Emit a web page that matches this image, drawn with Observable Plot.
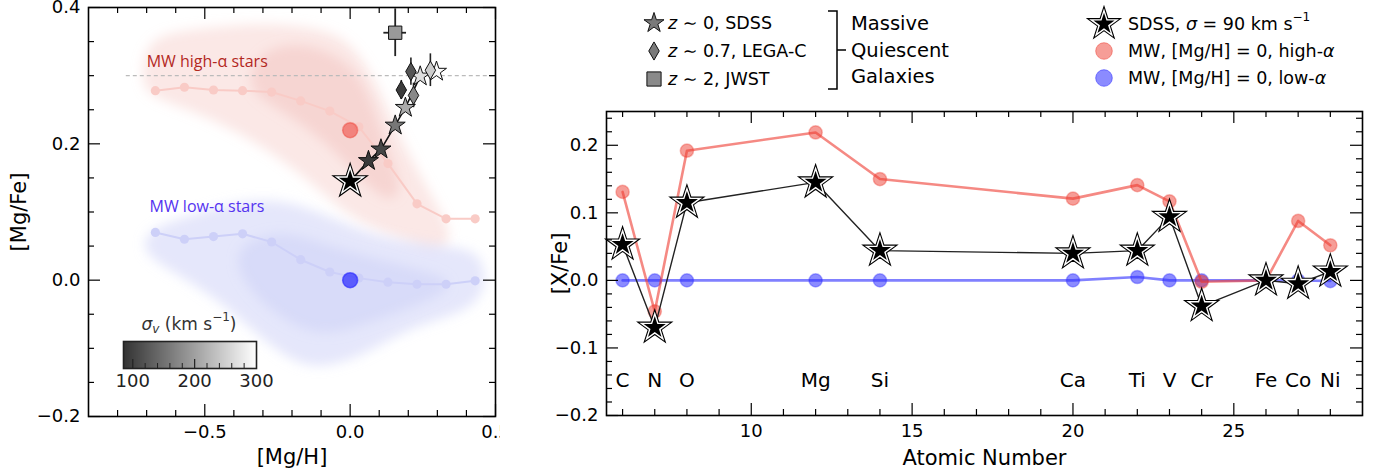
<!DOCTYPE html>
<html><head><meta charset="utf-8">
<script src="https://cdn.jsdelivr.net/npm/d3@7"></script>
<script src="https://cdn.jsdelivr.net/npm/@observablehq/plot@0.6"></script>
<style>
body{margin:0;background:#fff;width:1376px;height:474px;position:relative;overflow:hidden;font-family:"DejaVu Sans",sans-serif;}
.abs{position:absolute;}
.abs svg{max-width:none;}
#overlay{pointer-events:none;}
</style></head><body>
<div id="left" class="abs" style="left:0;top:0"></div>
<div id="right" class="abs" style="left:500px;top:0"></div>
<div id="cbar" class="abs" style="left:103px;top:301px"></div>
<svg id="overlay" class="abs" style="left:0;top:0" width="1376" height="474"></svg>
<script>
// ---------------- DATA (left panel) ----------------
const mwBinsMgH   = [-0.67,-0.57,-0.47,-0.37,-0.27,-0.17,-0.07,0.03,0.13,0.23,0.33,0.43];
const mwHighMgFe  = [0.278,0.283,0.279,0.278,0.276,0.263,0.248,0.225,0.171,0.112,0.090,0.090];
const mwLowMgFe   = [0.070,0.060,0.064,0.068,0.056,0.030,0.012,0.003,-0.003,-0.006,-0.006,-0.001];
const mwRefMgH    = [0.0, 0.0];
const mwRefMgFe   = [0.22, 0.0];
const sdssMgH     = [0.0,0.063,0.106,0.155,0.190,0.241,0.297];
const sdssMgFe    = [0.145,0.175,0.192,0.227,0.253,0.299,0.306];
const sdssSigma   = [90,92,105,157,210,264,295];
const legacMgH    = [0.209,0.176,0.218,0.276];
const legacMgFe   = [0.306,0.279,0.271,0.308];
const legacErr    = [0.020,0.014,0.018,0.024];
const legacSigma  = [121,95,175,246];
const jwstMgH     = [0.155];
const jwstMgFe    = [0.363];
const jwstErrX    = [0.039];
const jwstErrY    = [0.035];
const jwstSigma   = [192];
const alphaSolarLine = [0.3];
const alphaSolarFromMgH = -0.77;
// hand-read outlines of the MW star clouds (outer extent, dense core)
const highCloudOuter = [[-0.72,0.30],[-0.70,0.36],[-0.5,0.37],[-0.3,0.378],[-0.1,0.37],[0.0,0.35],[0.08,0.30],[0.14,0.24],[0.22,0.17],[0.30,0.11],[0.36,0.06],[0.30,0.04],[0.18,0.06],[0.05,0.08],[-0.05,0.11],[-0.18,0.16],[-0.35,0.21],[-0.55,0.25],[-0.70,0.27]];
const highCloudCore  = [[-0.35,0.30],[-0.3,0.34],[-0.15,0.35],[0.0,0.32],[0.07,0.27],[0.12,0.2],[0.18,0.14],[0.15,0.11],[0.05,0.14],[-0.05,0.19],[-0.2,0.24],[-0.33,0.27]];
const lowCloudOuter  = [[-0.72,0.04],[-0.70,0.075],[-0.55,0.095],[-0.4,0.115],[-0.25,0.12],[-0.1,0.10],[0.05,0.07],[0.2,0.055],[0.35,0.05],[0.46,0.04],[0.47,-0.02],[0.38,-0.05],[0.2,-0.07],[0.05,-0.11],[-0.1,-0.13],[-0.2,-0.12],[-0.32,-0.08],[-0.45,-0.03],[-0.6,0.01]];
const lowCloudCore   = [[-0.4,0.05],[-0.25,0.075],[-0.1,0.055],[0.05,0.035],[0.25,0.015],[0.38,-0.005],[0.25,-0.035],[0.05,-0.065],[-0.1,-0.085],[-0.25,-0.055],[-0.38,0.0]];
const cloudLabels = [
  {text:"MW high-α stars", mgh:-0.70, mgfe:0.320, color:"#b3281f"},
  {text:"MW low-α stars",  mgh:-0.69, mgfe:0.107, color:"#5533f0"}
];
const leftXMajor=[-0.5,0,0.5], leftXMinor=[-0.8,-0.7,-0.6,-0.4,-0.3,-0.2,-0.1,0.1,0.2,0.3,0.4];
const leftYMajor=[-0.2,0,0.2,0.4], leftYMinor=[-0.15,-0.1,-0.05,0.05,0.1,0.15,0.25,0.3,0.35];
const leftXLabels=[-0.5,0,0.5], leftYLabels=[-0.2,0,0.2,0.4];
const sigmaDomain=[85,300];
const cbarLabels=[100,200,300], cbarMajor=[100,200], cbarMinor=[120,140,160,180,220,240,260,280];

// ---------------- DATA (right panel) ----------------
const elements     = ["C","N","O","Mg","Si","Ca","Ti","V","Cr","Fe","Co","Ni"];
const atomicNumber = [6,7,8,12,14,20,22,23,24,26,27,28];
const mwHighXFe    = [0.131,-0.046,0.192,0.219,0.150,0.121,0.141,0.117,-0.002,0.0,0.088,0.052];
const mwLowXFe     = [0,0,0,0,0,0,0.005,0,0,0,0,-0.001];
const sdss90XFe    = [0.053,-0.070,0.115,0.145,0.044,0.040,0.044,0.094,-0.038,0.0,-0.005,0.013];
const rightXMajor=[10,15,20,25], rightXMinor=[6,7,8,9,11,12,13,14,16,17,18,19,21,22,23,24,26,27,28];
const rightYMajor=[-0.2,-0.1,0,0.1,0.2], rightYMinor=[-0.18,-0.16,-0.14,-0.12,-0.08,-0.06,-0.04,-0.02,0.02,0.04,0.06,0.08,0.12,0.14,0.16,0.18,0.22,0.24];

// ---------------- tables ----------------
const pts = (xs, ys, extra={}) => xs.map((x,i)=>({x, y:ys[i], ...Object.fromEntries(Object.entries(extra).map(([k,v])=>[k,v[i]]))}));
const mwHigh = pts(mwBinsMgH, mwHighMgFe);
const mwLow  = pts(mwBinsMgH, mwLowMgFe);
const sdss   = pts(sdssMgH, sdssMgFe, {s:sdssSigma});
const legac  = pts(legacMgH, legacMgFe, {e:legacErr, s:legacSigma});
const jwst   = pts(jwstMgH, jwstMgFe, {ex:jwstErrX, ey:jwstErrY, s:jwstSigma});
const cloud  = arr => arr.map(([x,y])=>({x,y}));
const elem   = elements.map((el,i)=>({el, z:atomicNumber[i], hi:mwHighXFe[i], lo:mwLowXFe[i], sd:sdss90XFe[i]}));

const FONT = "DejaVu Sans";
const colorScale = {type:"linear", domain:sigmaDomain, range:["#333333","#ffffff"]};

function frameTicks(xMaj,xMin,yMaj,yMin,iw,ih){
  const M=12, m=6, sw=1.2;
  return [
    Plot.ruleX(xMaj,{x:d=>d,insetTop:ih-M,strokeWidth:sw}),
    Plot.ruleX(xMaj,{x:d=>d,insetBottom:ih-M,strokeWidth:sw}),
    Plot.ruleX(xMin,{x:d=>d,insetTop:ih-m,strokeWidth:sw}),
    Plot.ruleX(xMin,{x:d=>d,insetBottom:ih-m,strokeWidth:sw}),
    Plot.ruleY(yMaj,{y:d=>d,insetRight:iw-M,strokeWidth:sw}),
    Plot.ruleY(yMaj,{y:d=>d,insetLeft:iw-M,strokeWidth:sw}),
    Plot.ruleY(yMin,{y:d=>d,insetRight:iw-m,strokeWidth:sw}),
    Plot.ruleY(yMin,{y:d=>d,insetLeft:iw-m,strokeWidth:sw})
  ];
}
const fmt1 = d3.format(".1f");
const centered = {textAnchor:"middle", lineAnchor:"middle"};

// ---------------- LEFT PANEL ----------------
const L = {w:500,h:474,t:7,r:5,b:58,l:88};
const liw = L.w-L.l-L.r, lih = L.h-L.t-L.b;
const left = Plot.plot({
  width:L.w, height:L.h, marginTop:L.t, marginRight:L.r, marginBottom:L.b, marginLeft:L.l,
  x:{domain:[-0.9,0.5]}, y:{domain:[-0.2,0.4]}, color:colorScale,
  style:{fontFamily:FONT, fontSize:"18px", background:"white", color:"black"},
  marks:[
    Plot.line(cloud(highCloudOuter),{x:"x",y:"y",curve:"basis-closed",fill:"#f6c6c0",fillOpacity:0.4,stroke:"none"}),
    Plot.line(cloud(highCloudCore),{x:"x",y:"y",curve:"basis-closed",fill:"#eeb2ab",fillOpacity:0.35,stroke:"none"}),
    Plot.line(cloud(lowCloudOuter),{x:"x",y:"y",curve:"basis-closed",fill:"#d0d4f8",fillOpacity:0.55,stroke:"none"}),
    Plot.line(cloud(lowCloudCore),{x:"x",y:"y",curve:"basis-closed",fill:"#c3c8f4",fillOpacity:0.4,stroke:"none"}),
    Plot.ruleY(alphaSolarLine,{y:d=>d,x1:()=>alphaSolarFromMgH,x2:()=>0.5,stroke:"#bbbbbb",strokeWidth:1.3,strokeDasharray:"4,3"}),
    Plot.line(mwHigh,{x:"x",y:"y",stroke:"#f9cbc6",strokeWidth:2}),
    Plot.dot(mwHigh,{x:"x",y:"y",r:4.6,fill:"#f9cbc6",stroke:"none"}),
    Plot.line(mwLow,{x:"x",y:"y",stroke:"#cdd0f8",strokeWidth:2}),
    Plot.dot(mwLow,{x:"x",y:"y",r:4.6,fill:"#cdd0f8",stroke:"none"}),
    Plot.text(cloudLabels,{x:"mgh",y:"mgfe",text:"text",fill:"color",textAnchor:"start",fontSize:16,fontFamily:"Open Sans"}),
    Plot.dot([{x:mwRefMgH[0],y:mwRefMgFe[0]}],{x:"x",y:"y",r:7.5,fill:"#ee4036",fillOpacity:0.55,stroke:"#ee4036",strokeOpacity:0.45}),
    Plot.dot([{x:mwRefMgH[1],y:mwRefMgFe[1]}],{x:"x",y:"y",r:7.5,fill:"#2626ff",fillOpacity:0.7,stroke:"#2626ff",strokeOpacity:0.6}),
    Plot.ruleX(legac,{x:"x",y1:d=>d.y-d.e,y2:d=>d.y+d.e,stroke:"#222",strokeWidth:1.6}),
    Plot.ruleX(jwst,{x:"x",y1:d=>d.y-d.ey,y2:d=>d.y+d.ey,stroke:"#222",strokeWidth:1.8}),
    Plot.ruleY(jwst,{y:"y",x1:d=>d.x-d.ex,x2:d=>d.x+d.ex,stroke:"#222",strokeWidth:1.8}),
    Plot.line(sdss,{x:"x",y:"y",stroke:"#111",strokeWidth:1.6}),
    Plot.dot(sdss.slice(1),{x:"x",y:"y",symbol:"star",r:6.3,fill:"s",stroke:"#111",strokeWidth:1}),
    Plot.dot(sdss.slice(0,1),{x:"x",y:"y",symbol:"star",r:8.4,fill:"black",stroke:"black",strokeWidth:3.6}),
    Plot.dot(sdss.slice(0,1),{x:"x",y:"y",symbol:"star",r:8.4,fill:"black",stroke:"white",strokeWidth:1.4}),
    Plot.dot(legac,{x:"x",y:"y",symbol:"diamond",r:5.5,fill:"s",stroke:"#111",strokeWidth:1}),
    Plot.dot(jwst,{x:"x",y:"y",symbol:"square",r:7.5,fill:"s",stroke:"#111",strokeWidth:1}),
    ...frameTicks(leftXMajor,leftXMinor,leftYMajor,leftYMinor,liw,lih),
    Plot.frame({stroke:"black",strokeWidth:1.6}),
    Plot.axisX({ticks:leftXLabels,tickSize:0,tickPadding:9,tickFormat:fmt1,label:null,fontSize:18}),
    Plot.axisY({ticks:leftYLabels,tickSize:0,tickPadding:8,tickFormat:fmt1,label:null,fontSize:18}),
    Plot.text(["[Mg/H]"],{text:d=>d,frameAnchor:"bottom",dy:41,fontSize:21,...centered}),
    Plot.text(["[Mg/Fe]"],{text:d=>d,frameAnchor:"left",dx:-69,rotate:-90,fontSize:21,...centered})
  ]
});
// soften the hand-drawn star-cloud outlines so they read as diffuse point clouds
{
  const svgL = d3.select(left);
  svgL.insert("defs",":first-child").append("filter").attr("id","cloudBlur")
    .attr("x","-20%").attr("y","-20%").attr("width","140%").attr("height","140%")
    .append("feGaussianBlur").attr("stdDeviation",6);
  svgL.selectAll('g[aria-label="line"]').filter((d,i)=>i<4).attr("filter","url(#cloudBlur)");
}
document.getElementById("left").append(left);

// ---------------- COLORBAR ----------------
const C = {w:173,h:97,t:40,r:20,b:30,l:20};
const ciw = C.w-C.l-C.r, cih = C.h-C.t-C.b;
const cbar = Plot.plot({
  width:C.w, height:C.h, marginTop:C.t, marginRight:C.r, marginBottom:C.b, marginLeft:C.l,
  x:{domain:sigmaDomain}, y:{domain:[0,1], axis:null}, color:colorScale,
  style:{fontFamily:FONT, fontSize:"18px", background:"transparent", color:"#222"},
  marks:[
    Plot.raster({fill:(x,y)=>x, x1:sigmaDomain[0], x2:sigmaDomain[1], y1:0, y2:1, width:ciw, height:1, imageRendering:"auto"}),
    Plot.ruleX(cbarMajor,{x:d=>d,insetTop:cih-9,stroke:"#222",strokeWidth:1.2}),
    Plot.ruleX(cbarMinor,{x:d=>d,insetTop:cih-5,stroke:"#222",strokeWidth:1}),
    Plot.frame({stroke:"#222",strokeWidth:1.6}),
    Plot.axisX({ticks:cbarLabels,tickSize:0,tickPadding:6,label:null,fontSize:18,tickFormat:d=>String(d)})
  ]
});
document.getElementById("cbar").append(cbar);

// ---------------- RIGHT PANEL ----------------
const R = {w:876,h:474,t:111,r:14,b:59,l:106};
const riw = R.w-R.l-R.r, rih = R.h-R.t-R.b;
const right = Plot.plot({
  width:R.w, height:R.h, marginTop:R.t, marginRight:R.r, marginBottom:R.b, marginLeft:R.l,
  x:{domain:[5.5,29]}, y:{domain:[-0.2,0.25]},
  style:{fontFamily:FONT, fontSize:"18px", background:"white", color:"black"},
  marks:[
    Plot.line(elem,{x:"z",y:"lo",stroke:"#2b2bff",strokeOpacity:0.6,strokeWidth:2.6}),
    Plot.dot(elem,{x:"z",y:"lo",r:6.6,fill:"#2b2bff",fillOpacity:0.55,stroke:"#2b2bff",strokeOpacity:0.35}),
    Plot.line(elem,{x:"z",y:"hi",stroke:"#ee3b30",strokeOpacity:0.6,strokeWidth:2.6}),
    Plot.dot(elem,{x:"z",y:"hi",r:6.6,fill:"#ee3b30",fillOpacity:0.5,stroke:"#ee3b30",strokeOpacity:0.35}),
    Plot.line(elem,{x:"z",y:"sd",stroke:"#222",strokeWidth:1.4}),
    Plot.dot(elem,{x:"z",y:"sd",symbol:"star",r:8.3,fill:"black",stroke:"black",strokeWidth:3.6}),
    Plot.dot(elem,{x:"z",y:"sd",symbol:"star",r:8.3,fill:"black",stroke:"white",strokeWidth:1.4}),
    Plot.text(elem,{x:"z",text:"el",frameAnchor:"bottom",dy:-35,fontSize:20,...centered}),
    ...frameTicks(rightXMajor,rightXMinor,rightYMajor,rightYMinor,riw,rih),
    Plot.frame({stroke:"black",strokeWidth:1.6}),
    Plot.axisX({ticks:rightXMajor,tickSize:0,tickPadding:9,label:null,fontSize:18}),
    Plot.axisY({ticks:rightYMajor,tickSize:0,tickPadding:8,tickFormat:fmt1,label:null,fontSize:18}),
    Plot.text(["Atomic Number"],{text:d=>d,frameAnchor:"bottom",dy:43,fontSize:21,...centered}),
    Plot.text(["[X/Fe]"],{text:d=>d,frameAnchor:"left",dx:-46,rotate:-90,fontSize:21,...centered})
  ]
});
document.getElementById("right").append(right);

// ---------------- LEGENDS / ANNOTATIONS ----------------
const ov = d3.select("#overlay");
const symPath = (type, r) => d3.symbol(type, Math.PI*r*r)();
function addSym(x,y,type,r,fill,stroke,sw,op){
  const p = ov.append("path").attr("d",symPath(type,r)).attr("transform",`translate(${x},${y})`)
    .attr("fill",fill).attr("stroke",stroke).attr("stroke-width",sw);
  if(op!=null) p.attr("fill-opacity",op).attr("stroke-opacity",op);
  return p;
}
function addText(x,y,html,size,opts={}){
  const t = ov.append("text").attr("x",x).attr("y",y).attr("font-family",FONT).attr("font-size",size)
    .attr("dominant-baseline","central").attr("fill",opts.fill||"black").attr("text-anchor",opts.anchor||"start");
  t.html(html);
  return t;
}
const legendLeft = [
  {sym:d3.symbolStar, r:6.3, fill:"#7a7a7a", label:'<tspan font-style="italic">z</tspan> ∼ 0, SDSS'},
  {sym:d3.symbolDiamond, r:5.5, fill:"#7a7a7a", label:'<tspan font-style="italic">z</tspan> ∼ 0.7, LEGA-C'},
  {sym:d3.symbolSquare, r:8, fill:"#8a8a8a", label:'<tspan font-style="italic">z</tspan> ∼ 2, JWST'}
];
const legendRows = [23,51,79];
legendLeft.forEach((d,i)=>{
  addSym(654,legendRows[i],d.sym,d.r,d.fill,"#111",1);
  addText(668,legendRows[i],d.label,17.5);
});
ov.append("path").attr("d","M828,11H837V89H828M837,50H846").attr("fill","none").attr("stroke","black").attr("stroke-width",1.5);
["Massive","Quiescent","Galaxies"].forEach((s,i)=>addText(851,[23,50,76][i],s,19.5));

addSym(1104,24,d3.symbolStar,8,"black","black",3.6);
addSym(1104,24,d3.symbolStar,8,"black","white",1.4);
addText(1128,24,'SDSS, <tspan font-style="italic">σ</tspan> = 90 km s<tspan dy="-7" font-size="12">−1</tspan>',17.5);
addSym(1104,51,d3.symbolCircle,8.3,"#ee3b30","#ee3b30",1,0.5);
addText(1128,51,'MW, [Mg/H] = 0, high-<tspan font-style="italic">α</tspan>',17.5);
addSym(1104,78,d3.symbolCircle,8.3,"#2b2bff","#2b2bff",1,0.55);
addText(1128,78,'MW, [Mg/H] = 0, low-<tspan font-style="italic">α</tspan>',17.5);

addText(189,324,'<tspan font-style="italic">σ</tspan><tspan font-style="italic" font-size="12" dy="5">v</tspan><tspan dy="-5"> (km s</tspan><tspan dy="-7" font-size="12">−1</tspan><tspan dy="7">)</tspan>',17,{anchor:"middle",fill:"#333"});
</script>
</body></html>
